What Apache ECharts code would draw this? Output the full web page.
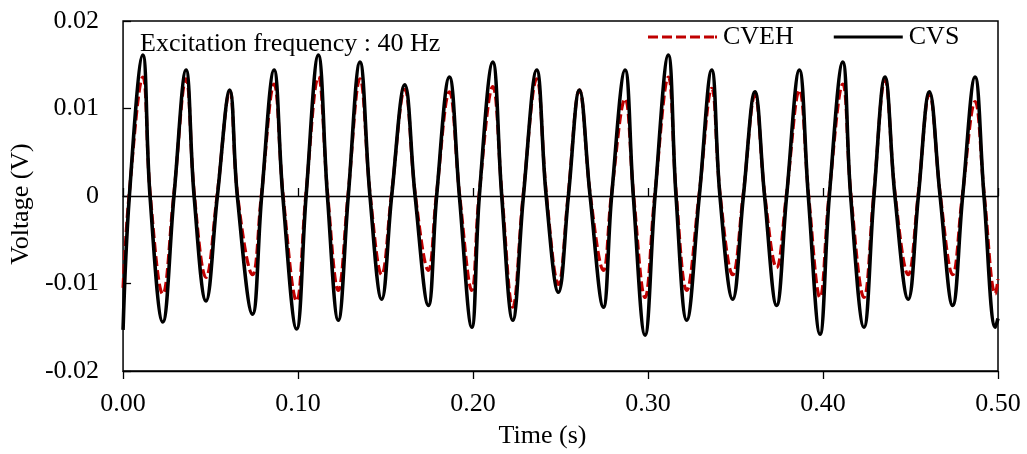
<!DOCTYPE html>
<html>
<head>
<meta charset="utf-8">
<script src="https://cdn.jsdelivr.net/npm/echarts@6/dist/echarts.min.js"></script>
<style>
  html, body { margin: 0; padding: 0; background: #fff; }
  #chart { width: 1027px; height: 454px; }
</style>
</head>
<body>
<div id="chart"></div>
<script>
// Voltage traces (V) against time (s): key points of each waveform
// (crossings, crests and troughs) for the two sensors.
var cvsTime = [
  0.0000, 0.0036, 0.0113, 0.0154, 0.0227, 0.0291, 0.0360, 0.0406, 0.0474, 0.0539,
  0.0610, 0.0653, 0.0740, 0.0792, 0.0863, 0.0913, 0.0992, 0.1046, 0.1116, 0.1168,
  0.1230, 0.1287, 0.1354, 0.1411, 0.1478, 0.1535, 0.1610, 0.1669, 0.1745, 0.1792,
  0.1865, 0.1922, 0.1993, 0.2036, 0.2113, 0.2164, 0.2227, 0.2288, 0.2364, 0.2418,
  0.2488, 0.2545, 0.2608, 0.2669, 0.2745, 0.2792, 0.2869, 0.2916, 0.2983, 0.3040,
  0.3116, 0.3160, 0.3221, 0.3293, 0.3364, 0.3411, 0.3484, 0.3545, 0.3611, 0.3666,
  0.3735, 0.3792, 0.3865, 0.3916, 0.3983, 0.4036, 0.4113, 0.4158, 0.4234, 0.4291,
  0.4354, 0.4411, 0.4487, 0.4545, 0.4608, 0.4669, 0.4741, 0.4798, 0.4869, 0.4920,
  0.4985, 0.5000
];
var cvsVolt = [
  -0.0153, 0, 0.0161, 0, -0.0144, 0, 0.0144, 0, -0.0120, 0,
  0.0121, 0, -0.0135, 0, 0.0144, 0, -0.0152, 0, 0.0161, 0,
  -0.0142, 0, 0.0153, 0, -0.0118, 0, 0.0127, 0, -0.0125, 0,
  0.0136, 0, -0.0150, 0, 0.0153, 0, -0.0142, 0, 0.0144, 0,
  -0.0110, 0, 0.0121, 0, -0.0127, 0, 0.0144, 0, -0.0159, 0,
  0.0161, 0, -0.0142, 0, 0.0144, 0, -0.0118, 0, 0.0119, 0,
  -0.0125, 0, 0.0144, 0, -0.0158, 0, 0.0153, 0, -0.0150, 0,
  0.0136, 0, -0.0118, 0, 0.0119, 0, -0.0125, 0, 0.0136, 0,
  -0.0150, -0.0140
];
var cvehTime = [
  0.0000, 0.0034, 0.0113, 0.0156, 0.0227, 0.0289, 0.0360, 0.0408, 0.0474, 0.0537,
  0.0610, 0.0655, 0.0740, 0.0790, 0.0863, 0.0915, 0.0992, 0.1044, 0.1116, 0.1170,
  0.1230, 0.1285, 0.1354, 0.1413, 0.1478, 0.1533, 0.1610, 0.1671, 0.1745, 0.1790,
  0.1865, 0.1924, 0.1993, 0.2034, 0.2113, 0.2166, 0.2227, 0.2286, 0.2364, 0.2420,
  0.2488, 0.2543, 0.2608, 0.2671, 0.2745, 0.2790, 0.2869, 0.2918, 0.2983, 0.3038,
  0.3116, 0.3162, 0.3221, 0.3291, 0.3364, 0.3413, 0.3484, 0.3543, 0.3611, 0.3668,
  0.3735, 0.3790, 0.3865, 0.3918, 0.3983, 0.4034, 0.4113, 0.4160, 0.4234, 0.4289,
  0.4354, 0.4413, 0.4487, 0.4543, 0.4608, 0.4671, 0.4741, 0.4796, 0.4869, 0.4922,
  0.4985, 0.5000
];
var cvehVolt = [
  -0.0105, 0, 0.0136, 0, -0.0112, 0, 0.0134, 0, -0.0093, 0,
  0.0120, 0, -0.0090, 0, 0.0128, 0, -0.0120, 0, 0.0136, 0,
  -0.0108, 0, 0.0134, 0, -0.0090, 0, 0.0122, 0, -0.0085, 0,
  0.0119, 0, -0.0108, 0, 0.0125, 0, -0.0127, 0, 0.0134, 0,
  -0.0101, 0, 0.0121, 0, -0.0085, 0, 0.0111, 0, -0.0116, 0,
  0.0136, 0, -0.0108, 0, 0.0123, 0, -0.0090, 0, 0.0115, 0,
  -0.0082, 0, 0.0121, 0, -0.0116, 0, 0.0128, 0, -0.0116, 0,
  0.0133, 0, -0.0090, 0, 0.0117, 0, -0.0090, 0, 0.0108, 0,
  -0.0112, -0.0095
];
var timeTicks = [0, 0.1, 0.2, 0.3, 0.4, 0.5];
var voltTicks = [-0.02, -0.01, 0, 0.01, 0.02];
var seriesNames = ['CVEH', 'CVS'];
var noteText = 'Excitation frequency : 40 Hz';

function pairs(xs, ys) {
  return xs.map(function (x, i) { return [x, ys[i]]; });
}

var FONT = 'Liberation Serif';
var RED = '#C00000';
var chart = echarts.init(document.getElementById('chart'), null, { renderer: 'canvas' });

var plainAxis = {
  type: 'value',
  position: 'bottom',
  min: timeTicks[0],
  max: timeTicks[timeTicks.length - 1],
  interval: timeTicks[1] - timeTicks[0],
  splitLine: { show: false },
  axisLabel: { show: false }
};

// legend keys: a dashed stroke and a solid stroke
var dashedKey = 'path://M0,0h10v3h-10z M14,0h10v3h-10z M28,0h10v3h-10z M42,0h10v3h-10z M56,0h10v3h-10z M67,0h2v3h-2z';
var solidKey = 'path://M0,0h69v3h-69z';

chart.setOption({
  animation: false,
  backgroundColor: '#fff',
  textStyle: { fontFamily: FONT, color: '#000' },
  grid: {
    left: 123, right: 29, top: 21, bottom: 80,
    show: true, borderColor: '#000', borderWidth: 1.5,
    backgroundColor: 'transparent'
  },
  legend: {
    data: [
      { name: seriesNames[0], icon: dashedKey, itemStyle: { color: RED } },
      { name: seriesNames[1], icon: solidKey, itemStyle: { color: '#000' } }
    ],
    left: 648, top: 24, padding: 0,
    itemWidth: 69, itemHeight: 3.4, itemGap: 40,
    textStyle: { fontFamily: FONT, fontSize: 26, color: '#000', padding: [0, 0, 0, 1] }
  },
  graphic: [{
    type: 'text',
    left: 140, top: 31,
    style: { text: noteText, font: '26px "Liberation Serif"', fill: '#000' }
  }],
  xAxis: [
    Object.assign({}, plainAxis, {
      axisLine: { show: false, onZero: false },
      axisTick: { show: false },
      axisLabel: {
        show: true, margin: 20, fontFamily: FONT, fontSize: 26, color: '#000',
        formatter: function (v) { return v.toFixed(2); }
      },
      name: 'Time (s)', nameLocation: 'middle', nameGap: 52,
      nameTextStyle: { fontFamily: FONT, fontSize: 26, color: '#000', padding: [0, 36, 0, 0] }
    }),
    // zero line, upper half of the crossing ticks
    Object.assign({}, plainAxis, {
      axisLine: { show: true, onZero: true, lineStyle: { color: '#000', width: 1.3 } },
      axisTick: { show: true, inside: true, length: 8, lineStyle: { color: '#000', width: 1.3 } }
    }),
    // lower half of the crossing ticks
    Object.assign({}, plainAxis, {
      axisLine: { show: true, onZero: true, lineStyle: { color: '#000', width: 1.3 } },
      axisTick: { show: true, inside: false, length: 8, lineStyle: { color: '#000', width: 1.3 } }
    })
  ],
  yAxis: {
    type: 'value',
    min: voltTicks[0],
    max: voltTicks[voltTicks.length - 1],
    interval: voltTicks[1] - voltTicks[0],
    splitLine: { show: false },
    axisLine: { show: false },
    axisTick: { show: true, inside: true, length: 8, lineStyle: { color: '#000', width: 1.3 } },
    axisLabel: {
      margin: 24, fontFamily: FONT, fontSize: 26, color: '#000',
      formatter: function (v) { return Math.abs(v) < 1e-9 ? '0' : v.toFixed(2); }
    },
    name: 'Voltage (V)', nameLocation: 'middle', nameGap: 86,
    nameTextStyle: { fontFamily: FONT, fontSize: 26, color: '#000', padding: [0, 16, 0, 0] }
  },
  series: [
    {
      name: seriesNames[0], type: 'line', xAxisIndex: 0,
      data: pairs(cvehTime, cvehVolt),
      showSymbol: false, symbol: 'none', smooth: 0.4,
      lineStyle: { color: RED, width: 3.2, type: [10, 4] },
      itemStyle: { color: RED }
    },
    {
      name: seriesNames[1], type: 'line', xAxisIndex: 0,
      data: pairs(cvsTime, cvsVolt),
      showSymbol: false, symbol: 'none', smooth: 0.4,
      lineStyle: { color: '#000', width: 3.6, type: 'solid' },
      itemStyle: { color: '#000' }
    }
  ]
});
</script>
</body>
</html>
